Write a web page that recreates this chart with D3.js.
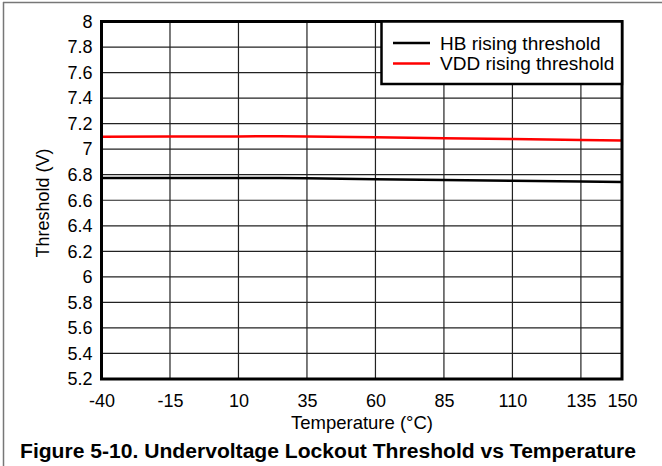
<!DOCTYPE html>
<html><head><meta charset="utf-8">
<script src="https://cdn.jsdelivr.net/npm/d3@7"></script>
<style>body{margin:0;background:#fff;} text{font-family:"Liberation Sans",Arial,sans-serif;}</style>
</head><body><svg id="c" width="662" height="466"></svg>
<script>
const temps = [-40, -15, 10, 25, 35, 60, 85, 110, 135, 150];
const hbRising = [6.774, 6.774, 6.775, 6.775, 6.772, 6.765, 6.759, 6.752, 6.746, 6.742];
const vddRising = [7.098, 7.099, 7.100, 7.101, 7.100, 7.093, 7.086, 7.080, 7.072, 7.067];
const xTicks = [-40, -15, 10, 35, 60, 85, 110, 135, 150];
const yTicks = [5.2, 5.4, 5.6, 5.8, 6, 6.2, 6.4, 6.6, 6.8, 7, 7.2, 7.4, 7.6, 7.8, 8];
const seriesNames = ["HB rising threshold", "VDD rising threshold"];
const seriesColors = ["#000000", "#ff0000"];

const svg = d3.select("#c");
const L = 101.5, R = 622, T = 21.5, B = 379;
const x = d3.scaleLinear().domain([-40, 150]).range([L, R]);
const y = d3.scaleLinear().domain([5.2, 8]).range([B, T]);

// outer frame
svg.append("line").attr("x1",3.5).attr("x2",3.5).attr("y1",2).attr("y2",466).attr("stroke","#777").attr("stroke-width",1.5);
svg.append("line").attr("x1",3).attr("x2",662).attr("y1",2.5).attr("y2",2.5).attr("stroke","#777").attr("stroke-width",1.5);

// grid
const g = svg.append("g");
g.selectAll(".vg").data(xTicks).enter().append("line")
  .attr("x1",d=>x(d)).attr("x2",d=>x(d)).attr("y1",T).attr("y2",B)
  .attr("stroke","#222").attr("stroke-width",1.2);
g.selectAll(".hg").data(yTicks).enter().append("line")
  .attr("x1",L).attr("x2",R).attr("y1",d=>y(d)).attr("y2",d=>y(d))
  .attr("stroke","#222").attr("stroke-width",1.2);

// axes (labels only)
const yAxis = d3.axisLeft(y).tickValues(yTicks).tickSize(0).tickPadding(9).tickFormat(d=>String(+d.toFixed(1)));
const ya = svg.append("g").attr("transform",`translate(${L},0)`).call(yAxis);
ya.select(".domain").remove();
ya.selectAll("text").attr("font-size",18).attr("fill","#000").style("font-family","Liberation Sans, Arial, sans-serif");

const xAxis = d3.axisBottom(x).tickValues(xTicks).tickSize(0).tickPadding(15).tickFormat(d=>String(d));
const xa = svg.append("g").attr("transform",`translate(0,${B})`).call(xAxis);
xa.select(".domain").remove();
xa.selectAll("text").attr("font-size",18).attr("fill","#000").style("font-family","Liberation Sans, Arial, sans-serif");

// lines
const line = d3.line().x((d,i)=>x(temps[i])).y(d=>y(d));
[hbRising, vddRising].forEach((s,k)=>{
  svg.append("path").datum(s).attr("d",line).attr("fill","none")
    .attr("stroke",seriesColors[k]).attr("stroke-width",2.5);
});

// plot border
svg.append("rect").attr("x",L).attr("y",T).attr("width",R-L).attr("height",B-T)
  .attr("fill","none").attr("stroke","#000").attr("stroke-width",3);

// legend
const lg = svg.append("g");
lg.append("rect").attr("x",381.5).attr("y",T).attr("width",R-381.5).attr("height",62.5)
  .attr("fill","#fff").attr("stroke","#000").attr("stroke-width",2.5);
seriesNames.forEach((n,i)=>{
  const yy = 43 + i*20.5;
  lg.append("line").attr("x1",393).attr("x2",430).attr("y1",yy).attr("y2",yy)
    .attr("stroke",seriesColors[i]).attr("stroke-width",2.5);
  lg.append("text").attr("x",440).attr("y",yy+6.8).attr("font-size",19).attr("fill","#000").text(n);
});

// axis titles
svg.append("text").attr("x",362).attr("y",429).attr("text-anchor","middle").attr("font-size",18.5).text("Temperature (°C)");
svg.append("text").attr("transform","translate(48.5,203) rotate(-90)").attr("text-anchor","middle").attr("font-size",18).text("Threshold (V)");
svg.append("text").attr("x",20).attr("y",458).attr("font-size",20).attr("font-weight","bold")
  .attr("textLength",616).attr("lengthAdjust","spacingAndGlyphs")
  .text("Figure 5-10. Undervoltage Lockout Threshold vs Temperature");
</script></body></html>
